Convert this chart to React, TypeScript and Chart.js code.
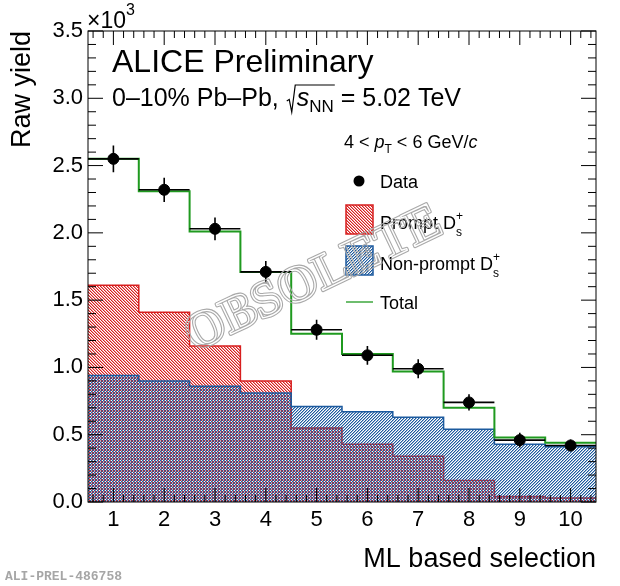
import React, { useEffect, useRef } from "react";
import { Chart, registerables } from "chart.js";

Chart.register(...registerables);

const FONT = "'Liberation Sans', Arial, Helvetica, sans-serif";
const RED = "#d81e1e";
const BLUE = "#1c5a9e";
const GREEN = "#1f9a1f";

// ML selection bins
const bins = [1, 2, 3, 4, 5, 6, 7, 8, 9, 10];
// raw yield, in units of 10^3
const dataYield = [2.55, 2.32, 2.03, 1.71, 1.28, 1.09, 0.99, 0.74, 0.46, 0.42];
const dataErr = [0.1, 0.09, 0.085, 0.08, 0.075, 0.07, 0.07, 0.06, 0.055, 0.045];
const promptYield = [1.61, 1.41, 1.16, 0.9, 0.55, 0.43, 0.34, 0.16, 0.04, 0.03];
const nonPromptYield = [0.94, 0.9, 0.86, 0.81, 0.71, 0.67, 0.63, 0.54, 0.43, 0.41];
const totalYield = [2.55, 2.31, 2.01, 1.71, 1.25, 1.1, 0.97, 0.7, 0.48, 0.44];

// histogram edges -> step points
const stepPoints = (vals: number[]) => [
  ...vals.map((v, i) => ({ x: bins[i] - 0.5, y: v })),
  { x: bins[bins.length - 1] + 0.5, y: vals[vals.length - 1] },
];

function hatch(color: string, dir: number) {
  const size = 3;
  const c = document.createElement("canvas");
  c.width = size;
  c.height = size;
  const g = c.getContext("2d")!;
  g.fillStyle = color;
  for (let i = 0; i < size; i++) {
    const x = dir > 0 ? i : size - 1 - i;
    g.globalAlpha = 1;
    g.fillRect(x, i, 1, 1);
    g.globalAlpha = 0.45;
    g.fillRect((x + 1) % size, i, 1, 1);
  }
  return g.createPattern(c, "repeat")!;
}

// hollow outlined stamp, drawn off-screen so the gap stays see-through
function watermark(w: number, h: number) {
  const c = document.createElement("canvas");
  c.width = w;
  c.height = h;
  const g = c.getContext("2d")!;
  g.translate(314, 280);
  g.rotate((-25.5 * Math.PI) / 180);
  g.font = `bold 51px 'Liberation Serif', 'DejaVu Serif', serif`;
  g.textAlign = "center";
  g.textBaseline = "middle";
  g.lineJoin = "round";
  g.strokeStyle = "#a9a9a9";
  g.lineWidth = 3.6;
  g.strokeText("OBSOLETE", 0, 0);
  g.globalCompositeOperation = "destination-out";
  g.lineWidth = 1.4;
  g.strokeText("OBSOLETE", 0, 0);
  return c;
}

type Seg = { t: string; size: number; italic?: boolean; dy?: number; noAdvance?: boolean };

function drawRich(ctx: CanvasRenderingContext2D, x: number, y: number, segs: Seg[]) {
  let cx = x;
  for (const s of segs) {
    ctx.font = `${s.italic ? "italic " : ""}${s.size}px ${FONT}`;
    ctx.fillText(s.t, cx, y + (s.dy ?? 0));
    if (!s.noAdvance) cx += ctx.measureText(s.t).width;
  }
  return cx;
}

export default function App() {
  const chartRef = useRef<HTMLCanvasElement | null>(null);

  useEffect(() => {
    document.body.style.margin = "0";
    let chartInstance: Chart | null = null;
    const redHatch = hatch(RED, 1);
    const blueHatch = hatch(BLUE, -1);
    const stamp = watermark(620, 586);

    const errorBars = {
      id: "errorBars",
      beforeDatasetDraw(chart: any, args: any) {
        if (args.index !== 0) return;
        const { ctx } = chart;
        const xs = chart.scales.x;
        const ys = chart.scales.y;
        ctx.save();
        ctx.strokeStyle = "#000";
        ctx.lineWidth = 1.6;
        bins.forEach((b, i) => {
          const py = ys.getPixelForValue(dataYield[i]);
          const px = xs.getPixelForValue(b);
          ctx.beginPath();
          ctx.moveTo(xs.getPixelForValue(b - 0.5), py);
          ctx.lineTo(xs.getPixelForValue(b + 0.5), py);
          ctx.moveTo(px, ys.getPixelForValue(dataYield[i] + dataErr[i]));
          ctx.lineTo(px, ys.getPixelForValue(dataYield[i] - dataErr[i]));
          ctx.stroke();
        });
        ctx.restore();
      },
    };

    const decorations = {
      id: "decorations",
      afterDraw(chart: any) {
        const { ctx, chartArea } = chart;
        const { left, right, top, bottom } = chartArea;
        const xs = chart.scales.x;
        const ys = chart.scales.y;
        ctx.save();

        // frame + inward ticks on all sides
        ctx.strokeStyle = "#000";
        ctx.lineWidth = 1;
        ctx.strokeRect(left, top, right - left, bottom - top);
        ctx.beginPath();
        for (let k = 0; k <= 35; k++) {
          const py = ys.getPixelForValue(k / 10);
          const len = k % 5 === 0 ? 15 : 8;
          ctx.moveTo(left, py);
          ctx.lineTo(left + len, py);
          ctx.moveTo(right, py);
          ctx.lineTo(right - len, py);
        }
        for (let k = 3; k <= 52; k++) {
          const px = xs.getPixelForValue(k / 5);
          const len = k % 5 === 0 ? 14 : 7;
          ctx.moveTo(px, bottom);
          ctx.lineTo(px, bottom - len);
          ctx.moveTo(px, top);
          ctx.lineTo(px, top + len);
        }
        ctx.stroke();

        ctx.fillStyle = "#000";
        ctx.textAlign = "left";
        ctx.textBaseline = "alphabetic";

        // axis multiplier
        drawRich(ctx, 87, 28, [{ t: "\u00d710", size: 23 }]);
        drawRich(ctx, 126, 15, [{ t: "3", size: 16 }]);

        // header
        drawRich(ctx, 112, 72, [{ t: "ALICE Preliminary", size: 32 }]);
        let x = drawRich(ctx, 112, 106, [{ t: "0\u201310% Pb\u2013Pb, ", size: 25 }]);
        const sx = x + 1;
        const nnEnd = drawRich(ctx, sx + 10, 106, [
          { t: "s", size: 25, italic: true },
          { t: "NN", size: 17, dy: 6 },
        ]);
        ctx.beginPath();
        ctx.lineWidth = 1.2;
        ctx.moveTo(sx, 101);
        ctx.lineTo(sx + 2.5, 99.5);
        ctx.lineTo(sx + 5, 112);
        ctx.lineTo(sx + 8.5, 85);
        ctx.lineTo(nnEnd + 1, 85);
        ctx.stroke();
        drawRich(ctx, nnEnd, 106, [{ t: " = 5.02 TeV", size: 25 }]);

        // legend
        drawRich(ctx, 344, 148, [
          { t: "4 < ", size: 18 },
          { t: "p", size: 18, italic: true },
          { t: "T", size: 12, dy: 5 },
          { t: " < 6 GeV/", size: 18 },
          { t: "c", size: 18, italic: true },
        ]);
        ctx.beginPath();
        ctx.arc(359, 181, 5.5, 0, Math.PI * 2);
        ctx.fill();
        drawRich(ctx, 380, 188, [{ t: "Data", size: 18 }]);

        const box = (y: number, pattern: CanvasPattern, color: string) => {
          ctx.fillStyle = pattern;
          ctx.fillRect(346, y, 27, 29);
          ctx.strokeStyle = color;
          ctx.lineWidth = 1.5;
          ctx.strokeRect(346, y, 27, 29);
          ctx.fillStyle = "#000";
        };
        box(205, redHatch, RED);
        drawRich(ctx, 380, 229, [
          { t: "Prompt D", size: 18 },
          { t: "+", size: 12, dy: -9, noAdvance: true },
          { t: "s", size: 12, dy: 7 },
        ]);
        box(246, blueHatch, BLUE);
        drawRich(ctx, 380, 270, [
          { t: "Non-prompt D", size: 18 },
          { t: "+", size: 12, dy: -9, noAdvance: true },
          { t: "s", size: 12, dy: 7 },
        ]);
        ctx.strokeStyle = GREEN;
        ctx.lineWidth = 1.3;
        ctx.beginPath();
        ctx.moveTo(346, 302);
        ctx.lineTo(373, 302);
        ctx.stroke();
        drawRich(ctx, 380, 309, [{ t: "Total", size: 18 }]);

        // preliminary id
        ctx.fillStyle = "#a6a6a6";
        ctx.font = `bold 13px 'Liberation Mono', 'DejaVu Sans Mono', monospace`;
        ctx.fillText("ALI-PREL-486758", 5, 580);

        ctx.drawImage(stamp, 0, 0, 620, 586);
        ctx.restore();
      },
    };

    if (chartRef.current) {
      const context = chartRef.current.getContext("2d");
      if (context) {
        chartInstance = new Chart(context, {
          type: "line",
          data: {
            datasets: [
              {
                label: "Data",
                data: bins.map((b, i) => ({ x: b, y: dataYield[i] })),
                showLine: false,
                pointRadius: 5.5,
                pointBackgroundColor: "#000",
                pointBorderColor: "#000",
                borderColor: "#000",
              },
              {
                label: "Total",
                data: stepPoints(totalYield),
                stepped: "before",
                borderColor: GREEN,
                borderWidth: 2,
                pointRadius: 0,
                fill: false,
              },
              {
                label: "Non-prompt",
                data: stepPoints(nonPromptYield),
                stepped: "before",
                borderColor: BLUE,
                borderWidth: 1.5,
                backgroundColor: blueHatch,
                fill: "origin",
                pointRadius: 0,
              },
              {
                label: "Prompt",
                data: stepPoints(promptYield),
                stepped: "before",
                borderColor: RED,
                borderWidth: 1.5,
                backgroundColor: redHatch,
                fill: "origin",
                pointRadius: 0,
              },
            ],
          },
          options: {
            responsive: false,
            animation: false,
            layout: { padding: { top: 31, right: 24, left: 0, bottom: 0 } },
            plugins: {
              legend: { display: false },
              tooltip: { enabled: false },
            },
            scales: {
              x: {
                type: "linear",
                min: 0.5,
                max: 10.5,
                afterFit: (s: any) => {
                  s.height = 84;
                },
                afterBuildTicks: (s: any) => {
                  s.ticks = bins.map((b) => ({ value: b }));
                },
                ticks: {
                  color: "#000",
                  padding: 5,
                  font: { family: FONT, size: 22 },
                },
                grid: { display: false, drawTicks: false },
                border: { display: false },
                title: {
                  display: true,
                  text: "ML based selection",
                  align: "end",
                  color: "#000",
                  font: { family: FONT, size: 27 },
                  padding: { top: 0, bottom: 10 },
                },
              },
              y: {
                type: "linear",
                min: 0,
                max: 3.5,
                afterFit: (s: any) => {
                  s.width = 88;
                },
                ticks: {
                  stepSize: 0.5,
                  color: "#000",
                  padding: 5,
                  font: { family: FONT, size: 22 },
                  callback: (v: any) => Number(v).toFixed(1),
                },
                grid: { display: false, drawTicks: false },
                border: { display: false },
                title: {
                  display: true,
                  text: "Raw yield",
                  align: "end",
                  color: "#000",
                  font: { family: FONT, size: 27 },
                  padding: { top: 6, bottom: 0 },
                },
              },
            },
          },
          plugins: [errorBars, decorations],
        });
      }
    }
    return () => {
      if (chartInstance) {
        chartInstance.destroy();
      }
    };
  }, []);

  return (
    <div style={{ width: 620, height: 586 }}>
      <canvas ref={chartRef} width={620} height={586} style={{ display: "block" }} />
    </div>
  );
}
